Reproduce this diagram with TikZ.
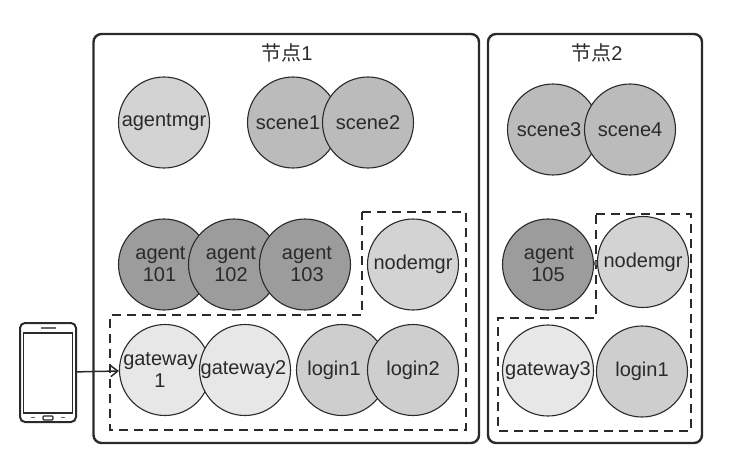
\documentclass[tikz,border=0pt]{standalone}
\usepackage{fontspec}
\setmainfont{Liberation Sans}
\newfontfamily\pCjkFont{Noto Sans CJK SC}
\usetikzlibrary{arrows.meta}
\newcommand{\pTitle}[1]{{\pCjkFont 节点}#1}
\newcommand{\pLeft}[2]{#2\hspace*{#1pt}}
\newcommand{\pRight}[2]{\hspace*{#1pt}#2}
\definecolor{pInk}{HTML}{2A2A2A}
\definecolor{pAgent}{HTML}{9C9C9C}
\definecolor{pScene}{HTML}{BBBBBB}
\definecolor{pMgr}{HTML}{D3D3D3}
\definecolor{pLogin}{HTML}{CECECE}
\definecolor{pGate}{HTML}{E7E7E7}
\tikzset{
  proc/.style={circle, draw=pInk, line width=1.1pt, minimum size=91pt, inner sep=0pt, align=center,
    text=pInk, font=\fontsize{20}{22}\selectfont},
  agentproc/.style={proc, fill=pAgent},
  sceneproc/.style={proc, fill=pScene},
  mgrproc/.style={proc, fill=pMgr},
  loginproc/.style={proc, fill=pLogin},
  gateproc/.style={proc, fill=pGate},
  hostbox/.style={draw=pInk, line width=2.4pt, rounded corners=8pt},
  groupline/.style={draw=pInk, line width=1.4pt, dash pattern=on 9pt off 6pt},
  hosttitle/.style={text=pInk, inner sep=0pt, font=\fontsize{20}{22}\selectfont}
}
\begin{document}
\begin{tikzpicture}[x=1pt,y=-1pt]
\useasboundingbox (0,0) rectangle (752,468);
\draw[hostbox] (93.5,34) rectangle (479,443);
\draw[hostbox] (488,34) rectangle (702,443);
\node[hosttitle] (titleA) at (287,53) {\pTitle{1}};
\node[hosttitle] (titleB) at (597,53) {\pTitle{2}};
\draw[groupline] (362,212) -- (466,212) -- (466,430) -- (110,430) -- (110,315) -- (362,315) -- cycle;
\draw[groupline] (596,214) -- (691,214) -- (691,431) -- (498,431) -- (498,318) -- (596,318) -- cycle;
\node[mgrproc] (agentmgr) at (164,122.5) {agentmgr};
\node[sceneproc] (scene1) at (293,122.5) {\pLeft{10}{scene1}};
\node[sceneproc] (scene2) at (368,122.5) {scene2};
\node[sceneproc] (scene3) at (553,129.5) {\pLeft{8}{scene3}};
\node[sceneproc] (scene4) at (630,129.5) {scene4};
\node[agentproc] (agent101) at (164,264.5) {\pLeft{7}{agent}\\\pLeft{9}{101}};
\node[agentproc] (agent102) at (234,264.5) {\pLeft{6}{agent}\\\pLeft{6}{102}};
\node[agentproc] (agent103) at (305,264.5) {\pRight{4}{agent}\\\pRight{4}{103}};
\node[agentproc] (agent105) at (548,264.5) {\pRight{2}{agent}\\105};
\node[mgrproc] (nodemgrA) at (413,264.5) {nodemgr};
\node[mgrproc] (nodemgrB) at (643,262) {nodemgr};
\node[gateproc] (gateway1) at (165,370) {\pLeft{9}{gateway}\\\pLeft{10}{1}};
\node[gateproc] (gateway2) at (245,370) {\pLeft{3}{gateway2}};
\node[gateproc] (gateway3) at (548,370.5) {gateway3};
\node[loginproc] (loginA) at (342,370) {\pLeft{16}{login1}};
\node[loginproc] (loginB) at (413,370) {login2};
\node[loginproc] (loginC) at (642,371.5) {login1};
\draw[draw=pInk!70, line width=4pt] (agent105) -- (nodemgrB);
% phone
\node[draw=pInk, line width=2pt, rounded corners=5pt, minimum width=56pt, minimum height=99pt, inner sep=0pt] (phone) at (48,372.5) {};
\draw[draw=pInk, line width=1.2pt] (23.5,333) rectangle (72.5,413);
\draw[draw=pInk, line width=1.1pt, rounded corners=1pt] (43,416) rectangle (53,420);
\draw[draw=pInk!70, line width=1.5pt] (41,328) -- (56,328);
\draw[draw=pInk!70, line width=1pt] (31,417.5) -- (35,417.5);
\draw[draw=pInk!70, line width=1pt] (61,417.5) -- (65,417.5);
\draw[-{Straight Barb[length=7pt,width=11pt]}, draw=pInk, line width=1.5pt] (phone) -- (gateway1);
\end{tikzpicture}
\end{document}
